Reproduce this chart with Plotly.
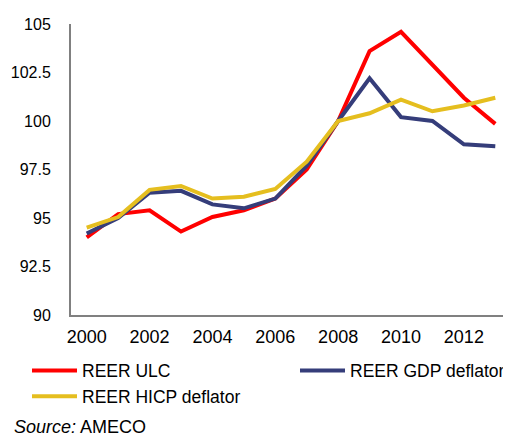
import plotly.graph_objects as go

years = list(range(2000, 2014))
reer_ulc = [94.0, 95.2, 95.4, 94.3, 95.05, 95.4, 96.0, 97.5, 100.0, 103.6, 104.6, 102.9, 101.2, 99.85]
reer_gdp = [94.2, 95.0, 96.3, 96.4, 95.7, 95.5, 96.0, 97.7, 100.0, 102.2, 100.2, 100.0, 98.8, 98.7]
reer_hicp = [94.5, 95.05, 96.45, 96.65, 96.0, 96.1, 96.5, 97.9, 100.0, 100.4, 101.1, 100.5, 100.8, 101.2]
y_ticks = [90, 92.5, 95, 97.5, 100, 102.5, 105]
x_ticks = [2000, 2002, 2004, 2006, 2008, 2010, 2012]

FONT = "Liberation Sans, Arial, sans-serif"
# page has an 8px body margin, so the figure is sized/offset to compensate
W, H = 503, 428
ML, MT, MB = 63, 16, 121
PW, PH = W - ML, H - MT - MB

fig = go.Figure()
series = [
    ("REER ULC", reer_ulc, "#FF0000", "legend"),
    ("REER GDP deflator", reer_gdp, "#353D7A", "legend2"),
    ("REER HICP deflator", reer_hicp, "#E5BE1F", "legend"),
]
for name, vals, col, lg in series:
    fig.add_trace(go.Scatter(x=years, y=vals, name=name, mode="lines",
                             line=dict(color=col, width=4), legend=lg))

leg_common = dict(orientation="v", xanchor="left", yanchor="top", xref="container",
                  yref="container", itemwidth=45, font=dict(size=17.5),
                  bgcolor="rgba(0,0,0,0)", traceorder="normal", tracegroupgap=0)

fig.update_layout(
    width=W, height=H,
    margin=dict(l=ML, r=0, t=MT, b=MB, autoexpand=False),
    paper_bgcolor="white", plot_bgcolor="white",
    font=dict(family=FONT, size=18, color="#000000"),
    xaxis=dict(range=[1999.5, 2013.5], tickvals=x_ticks, ticktext=[str(v) for v in x_ticks],
               showgrid=False, zeroline=False, showline=True, linecolor="#808080",
               linewidth=2, ticks="outside", ticklen=4, tickcolor="rgba(0,0,0,0)",
               tickfont=dict(size=18)),
    yaxis=dict(range=[90, 105], tickvals=y_ticks, ticktext=[str(v) for v in y_ticks],
               showgrid=False, zeroline=False, showline=True, linecolor="#808080",
               linewidth=2, ticks="outside", ticklen=15, tickcolor="rgba(0,0,0,0)",
               tickfont=dict(size=16)),
    legend=dict(x=19 / W, y=1 - 344.5 / H, **leg_common),
    legend2=dict(x=287 / W, y=1 - 344.5 / H, **leg_common),
    annotations=[dict(text="<i>Source:</i> AMECO", xref="paper", yref="paper",
                      x=(4 - ML) / PW, y=(H - MB - 419) / PH, xanchor="left", yanchor="middle",
                      showarrow=False, font=dict(size=18))],
)

fig.write_html("out.html")
